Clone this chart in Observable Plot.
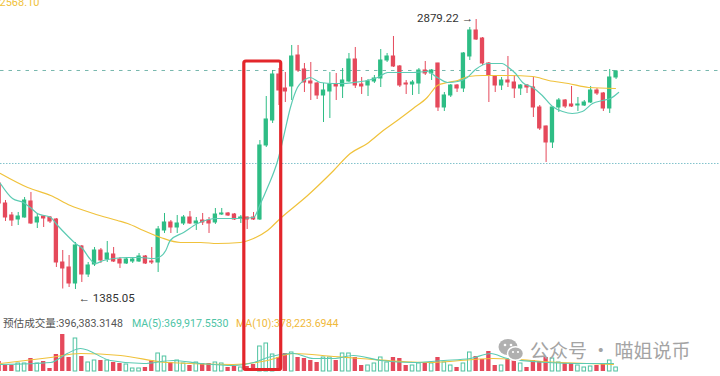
<!DOCTYPE html>
<html><head><meta charset="utf-8">
<script src="https://cdn.jsdelivr.net/npm/d3@7"></script>
<script src="https://cdn.jsdelivr.net/npm/@observablehq/plot@0.6"></script>
<style>
html,body{margin:0;padding:0;background:#fff;}
#wrap{position:relative;width:720px;height:376px;overflow:hidden;font-family:Roboto,"Noto Sans CJK SC",sans-serif;background:#fff;}
#price{position:absolute;left:0;top:0;}
#legend{position:absolute;left:0;top:318px;font-size:10.6px;white-space:nowrap;line-height:12px;font-family:Roboto,"Noto Sans CJK SC",sans-serif;}
#legend span{position:absolute;top:0;}
#vol{position:absolute;left:0;top:305px;}
#wm{position:absolute;left:498px;top:336px;display:flex;align-items:center;color:#a4a4a4;font-size:19px;font-family:"Noto Sans CJK SC",sans-serif;white-space:nowrap;}
#wm svg{margin-right:6px;}
</style></head>
<body>
<div id="wrap">
  <div id="price"></div>
  <div id="legend"></div>
  <div id="vol"></div>
  <div id="wm"><svg width="26" height="24" viewBox="0 0 26 24"><ellipse cx="10" cy="9" rx="9.5" ry="8" fill="#b0b0b0"/><ellipse cx="17.5" cy="15.5" rx="8" ry="6.8" fill="#b0b0b0" stroke="#fff" stroke-width="1.5"/><circle cx="7" cy="7" r="1.3" fill="#fff"/><circle cx="13" cy="7" r="1.3" fill="#fff"/><circle cx="15" cy="14" r="1.1" fill="#fff"/><circle cx="20" cy="14" r="1.1" fill="#fff"/></svg><span>公众号 · 喵姐说币</span></div>
</div>
<script>
// ---- price data (OHLC) ----
const opens = [1971.7,1861.0,1794.6,1772.5,1783.5,1872.1,1755.9,1789.1,1783.5,1772.5,
1534.5,1506.8,1418.3,1623.0,1468.1,1523.4,1600.9,1551.1,1578.8,1551.1,
1529.0,1540.0,1540.0,1567.7,1540.0,1534.5,1711.6,1755.9,1728.2,1750.3,
1783.5,1750.3,1766.9,1766.9,1755.9,1800.1,1805.7,1800.1,1778.0,1783.5,
1783.5,1772.5,2182.0,2320.3,2574.9,2497.4,2508.5,2680.0,2602.6,2536.1,
2525.1,2458.7,2480.8,2519.5,2508.5,2536.1,2657.9,2519.5,2514.0,2536.1,
2552.7,2652.4,2674.5,2619.2,2525.1,2519.5,2525.1,2597.0,2580.4,2635.8,
2392.3,2458.7,2514.0,2497.4,2674.5,2818.4,2774.1,2635.8,2563.8,2514.0,
2541.7,2530.6,2497.4,2514.0,2502.9,2392.3,2287.1,2198.6,2392.3,2431.0,
2408.9,2403.3,2403.3,2419.9,2486.3,2469.7,2386.7,2558.3];
const closes = [1861.0,1783.5,1766.9,1789.1,1877.6,1750.3,1783.5,1778.0,1761.4,1534.5,
1501.3,1418.3,1628.6,1468.1,1517.9,1600.9,1545.6,1584.3,1540.0,1529.0,
1551.1,1551.1,1567.7,1529.0,1534.5,1717.1,1755.9,1728.2,1750.3,1783.5,
1750.3,1761.4,1755.9,1750.3,1800.1,1805.7,1794.6,1772.5,1783.5,1772.5,
1772.5,2182.0,2325.9,2574.9,2486.3,2480.8,2674.5,2597.0,2530.6,2525.1,
2458.7,2486.3,2519.5,2508.5,2541.7,2657.9,2514.0,2508.5,2536.1,2552.7,
2652.4,2674.5,2619.2,2514.0,2519.5,2530.6,2597.0,2580.4,2597.0,2392.3,
2458.7,2514.0,2497.4,2691.1,2818.4,2768.5,2635.8,2569.3,2514.0,2541.7,
2530.6,2497.4,2514.0,2502.9,2392.3,2276.0,2198.6,2392.3,2431.0,2397.8,
2397.8,2408.9,2419.9,2486.3,2469.7,2386.7,2558.3,2591.5];
const highs = [1988.3,1877.6,1811.2,1811.2,1894.2,1921.9,1805.7,1794.6,1789.1,1778.0,
1600.9,1573.2,1645.2,1628.6,1534.5,1617.5,1612.0,1650.7,1617.5,1562.2,
1562.2,1562.2,1584.3,1573.2,1617.5,1733.7,1805.7,1766.9,1794.6,1794.6,
1816.7,1783.5,1805.7,1783.5,1833.3,1833.3,1811.2,1805.7,1794.6,1786.0,
1811.2,2209.6,2453.1,2597.0,2608.1,2586.0,2735.4,2735.4,2635.8,2641.3,
2530.6,2525.1,2586.0,2580.4,2608.1,2691.1,2724.3,2558.3,2547.2,2569.3,
2713.2,2691.1,2785.2,2624.7,2541.7,2541.7,2608.1,2646.8,2602.6,2637.0,
2475.3,2519.5,2519.5,2696.6,2835.0,2879.22,2779.6,2641.3,2569.3,2558.3,
2674.5,2569.3,2519.5,2519.5,2558.3,2403.3,2290.0,2397.8,2442.1,2436.5,
2508.5,2447.6,2431.0,2508.5,2497.4,2475.3,2602.6,2597.0];
const lows = [1849.9,1761.4,1733.7,1739.2,1780.0,1745.0,1722.6,1728.2,1750.3,1506.8,
1387.8,1396.1,1385.05,1423.8,1451.5,1512.4,1529.0,1534.5,1534.5,1501.3,
1523.4,1529.0,1534.5,1523.4,1523.4,1479.2,1695.0,1695.0,1695.0,1739.2,
1745.0,1711.6,1739.2,1695.0,1745.0,1794.6,1789.1,1766.9,1750.3,1717.1,
1766.9,1766.9,2170.9,2303.7,2403.3,2419.9,2431.0,2586.0,2475.3,2431.0,
2436.5,2309.3,2331.4,2431.0,2442.1,2530.6,2497.4,2464.2,2453.1,2525.1,
2502.9,2641.3,2613.6,2502.9,2464.2,2458.7,2464.2,2569.3,2541.7,2370.1,
2370.1,2447.6,2475.3,2475.3,2652.4,2763.0,2624.7,2419.9,2475.3,2486.3,
2502.9,2442.1,2458.7,2469.7,2336.9,2265.0,2087.9,2165.4,2364.6,2386.7,
2392.3,2370.1,2397.8,2414.4,2458.7,2370.1,2359.1,2547.2];
// volume (thousands)
const volumes = [460,276,276,368,368,598,368,460,138,782,
1702,644,1518,690,414,506,506,506,414,368,
322,138,138,184,506,828,690,414,506,368,
276,414,368,368,414,368,184,230,184,230,
322,1150,1288,782,644,828,874,644,598,506,
414,644,644,506,828,828,644,276,276,368,
644,414,644,598,276,276,368,368,368,644,
414,276,184,368,874,690,552,920,276,276,
552,552,368,184,506,460,644,598,414,368,
368,276,184,230,276,368,506,184];

// moving-average lines (position in candle index, value)
const maShortIdx = [0.2,2.1,3.8,4.9,6.0,8.1,9.2,10.7,12.0,13.1,14.1,15.1,16.4,18.0,20.2,22.2,24.3,25.1,26.2,26.9,29.0,31.2,34.3,37.5,40.0,41.1,42.2,43.8,44.7,45.8,46.9,47.9,48.9,50.5,52.6,54.1,55.7,57.9,59.5,61.1,63.1,65.1,67.3,68.9,70.5,72.1,73.6,74.9,76.9,79.1,80.1,81.2,82.3,83.9,85.4,87.0,88.6,90.1,91.7,93.3,94.9,96.1,97.4];
const maShortVal = [1971.7,1888.7,1866.5,1838.9,1805.7,1783.5,1739.2,1683.9,1639.6,1612.0,1562.2,1529.0,1545.6,1556.6,1562.2,1562.2,1556.6,1562.2,1600.9,1656.2,1700.5,1750.3,1778.0,1778.0,1783.5,1861.0,1949.5,2099.0,2226.2,2392.3,2502.9,2541.7,2558.3,2530.6,2525.1,2525.1,2530.6,2541.7,2558.3,2586.0,2586.0,2586.0,2591.5,2558.3,2530.6,2536.1,2558.3,2602.6,2635.8,2635.8,2613.6,2580.4,2530.6,2502.9,2458.7,2397.8,2370.1,2359.1,2370.1,2414.4,2431.0,2442.1,2475.3];
const maLongIdx = [0.2,4.5,8.1,11.2,14.8,18.6,20.2,22.7,25.4,28.5,31.7,34.3,37.9,40.0,42.2,44.2,48.5,52.6,55.2,57.9,60.4,62.6,65.1,67.3,68.9,70.5,72.1,73.8,76.0,80.1,83.9,86.4,89.5,92.7,96.9];
const maLongVal = [2027.0,1949.5,1905.3,1849.9,1805.7,1766.9,1750.3,1711.6,1672.8,1645.2,1645.2,1639.6,1645.2,1667.3,1711.6,1778.0,1905.3,2043.6,2137.7,2193.0,2265.0,2320.3,2386.7,2447.6,2514.0,2530.6,2541.7,2563.8,2569.3,2569.3,2563.8,2541.7,2525.1,2502.9,2497.4];
const volMa5Idx = [0.2,8.1,10.7,12.8,17.5,22.7,27.4,31.7,36.8,40.0,42.2,44.2,46.3,49.4,52.6,55.7,60.0,65.1,69.9,74.1,77.3,79.9,86.2,90.9,96.6];
const volMa5Val = [322,414,828,1058,506,368,506,368,276,414,644,782,828,598,598,736,506,414,506,598,828,598,414,368,368];
const volMa10Idx = [0.2,8.1,12.8,19.1,26.5,36.8,42.2,46.3,52.6,56.8,67.3,77.7,88.3,96.6];
const volMa10Val = [368,644,828,736,414,322,506,828,690,598,414,598,414,322];

// reference levels, labels, highlighted range
const levels = [2597.0, 2082.4];
const highLabel = "2879.22 →", highIdx = 75, highVal = 2879.22;
const lowLabel = "← 1385.05", lowIdx = 12, lowVal = 1385.05;
const topCutLabel = "2568.10";
const legendTexts = ["预估成交量:396,383.3148", "MA(5):369,917.5530", "MA(10):378,223.6944"];
const boxRange = [38.55, 44.35], boxTop = 2646.8;

const G = "#2ebd85", R = "#e5495b", CY = "#5ccbb3", YL = "#f0c23b";
const candles = opens.map((o, i) => ({i, o, c: closes[i], h: highs[i], l: lows[i], v: volumes[i], up: closes[i] >= o}));
const ups = candles.filter(d => d.up), downs = candles.filter(d => !d.up);
const toPts = (xs, ys) => xs.map((x, k) => ({x, y: ys[k]}));
const xScale = {type: "linear", domain: [0.214, 113.42], axis: null};
const bw = 0.34;

const price = Plot.plot({
  width: 720, height: 305, margin: 0,
  x: xScale,
  y: {domain: [1296.5, 2984.37], axis: null},
  style: {overflow: "hidden", background: "transparent", fontFamily: "Roboto, sans-serif"},
  marks: [
    Plot.ruleY([levels[0]], {stroke: "#78b8ae", strokeDasharray: "3.5,5", strokeWidth: 1}),
    Plot.ruleY([levels[1]], {stroke: "#82c3cc", strokeDasharray: "1.5,1.5", strokeWidth: 1}),
    Plot.ruleX(ups, {x: "i", y1: "l", y2: "h", stroke: G, strokeWidth: 1}),
    Plot.ruleX(downs, {x: "i", y1: "l", y2: "h", stroke: R, strokeWidth: 1}),
    Plot.rect(ups, {x1: d => d.i - bw, x2: d => d.i + bw, y1: "o", y2: "c", fill: G, insetTop: -0.5, insetBottom: -0.5}),
    Plot.rect(downs, {x1: d => d.i - bw, x2: d => d.i + bw, y1: "c", y2: "o", fill: R, insetTop: -0.5, insetBottom: -0.5}),
    Plot.line(toPts(maLongIdx, maLongVal), {x: "x", y: "y", stroke: YL, strokeWidth: 1.2, curve: "monotone-x"}),
    Plot.line(toPts(maShortIdx, maShortVal), {x: "x", y: "y", stroke: CY, strokeWidth: 1.2, curve: "monotone-x"}),
    Plot.text([highLabel], {x: highIdx, y: highVal, text: d => d, textAnchor: "end", dx: -3, dy: -1, fontSize: 11.5, fill: "#333"}),
    Plot.text([lowLabel], {x: lowIdx, y: lowVal, text: d => d, textAnchor: "start", dx: 3, dy: 9, fontSize: 11.5, fill: "#333"}),
    Plot.text([topCutLabel], {frameAnchor: "top-left", text: d => d, textAnchor: "start", lineAnchor: "bottom", dx: -1, dy: 5, fontSize: 11, fill: YL}),
    Plot.rect([0], {x1: boxRange[0], x2: boxRange[1], y1: boxTop, y2: 0, fill: "none", stroke: "#e3262b", strokeWidth: 3.2, rx: 2})
  ]
});
document.getElementById("price").appendChild(price);

const leg = document.getElementById("legend");
const legColors = ["#555", "#4dc4a5", "#f0b93a"], legX = [3, 132, 236];
legendTexts.forEach((t, k) => {
  const s = document.createElement("span");
  s.textContent = t; s.style.color = legColors[k]; s.style.left = legX[k] + "px";
  leg.appendChild(s);
});

const vol = Plot.plot({
  width: 720, height: 71, marginTop: 0, marginBottom: 5, marginLeft: 0, marginRight: 0,
  x: xScale,
  y: {domain: [0, 3036], axis: null},
  style: {overflow: "hidden", background: "transparent"},
  marks: [
    Plot.rect(downs, {x1: d => d.i - bw, x2: d => d.i + bw, y1: 0, y2: "v", fill: R}),
    Plot.rect(ups, {x1: d => d.i - 0.28, x2: d => d.i + 0.28, y1: 0, y2: "v", fill: "white", stroke: "#4fc3a1", strokeWidth: 1}),
    Plot.line(toPts(volMa10Idx, volMa10Val), {x: "x", y: "y", stroke: YL, strokeWidth: 1.1, curve: "monotone-x"}),
    Plot.line(toPts(volMa5Idx, volMa5Val), {x: "x", y: "y", stroke: CY, strokeWidth: 1.1, curve: "monotone-x"}),
    Plot.rect([0], {x1: boxRange[0], x2: boxRange[1], y1: 69, y2: 20000, fill: "none", stroke: "#e3262b", strokeWidth: 3.2, rx: 2})
  ]
});
document.getElementById("vol").appendChild(vol);
</script>
</body></html>
